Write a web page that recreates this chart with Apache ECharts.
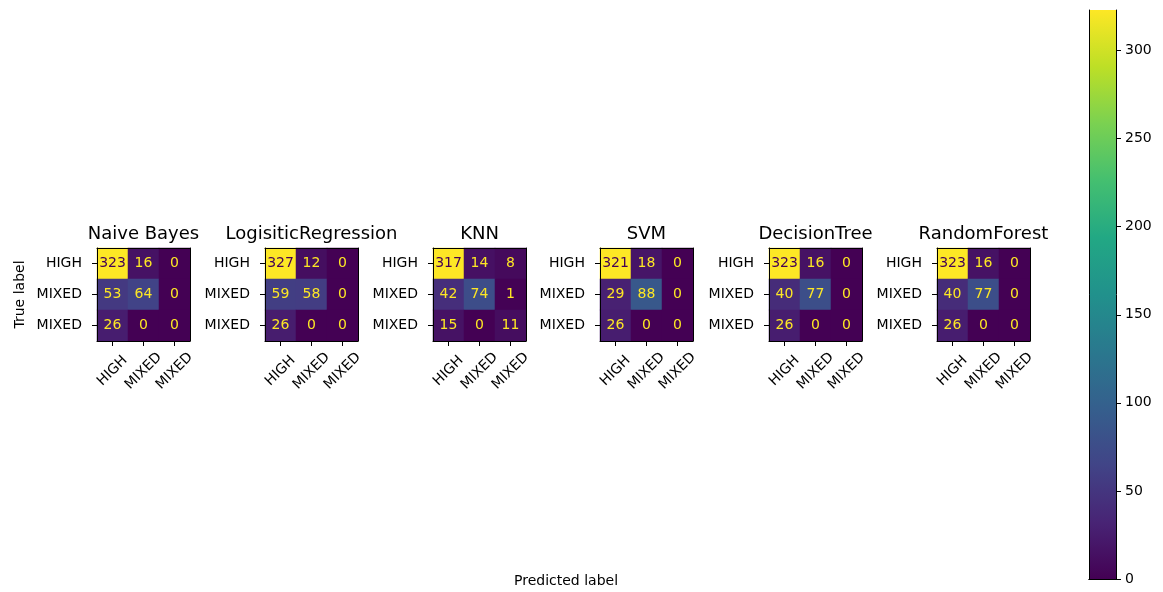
<!DOCTYPE html>
<html>
<head>
<meta charset="utf-8">
<script src="https://cdn.jsdelivr.net/npm/echarts@6/dist/echarts.min.js"></script>
<style>html,body{margin:0;padding:0;background:#fff}#c{width:1163px;height:592px}</style>
</head>
<body>
<div id="c"></div>
<script>
// ---- data ----
const models = ['Naive Bayes', 'LogisiticRegression', 'KNN', 'SVM', 'DecisionTree', 'RandomForest'];
const predLabels = ['HIGH', 'MIXED', 'MIXED'];
const trueLabels = ['HIGH', 'MIXED', 'MIXED'];
const cmNaiveBayes = [[323, 16, 0], [53, 64, 0], [26, 0, 0]];
const cmLogReg = [[327, 12, 0], [59, 58, 0], [26, 0, 0]];
const cmKNN = [[317, 14, 8], [42, 74, 1], [15, 0, 11]];
const cmSVM = [[321, 18, 0], [29, 88, 0], [26, 0, 0]];
const cmDecisionTree = [[323, 16, 0], [40, 77, 0], [26, 0, 0]];
const cmRandomForest = [[323, 16, 0], [40, 77, 0], [26, 0, 0]];
const colorbarTicks = [0, 50, 100, 150, 200, 250, 300];
const colorbarMax = 323;
const xTitle = 'Predicted label';
const yTitle = 'True label';

const matrices = [cmNaiveBayes, cmLogReg, cmKNN, cmSVM, cmDecisionTree, cmRandomForest];
const viridis = ['#440154', '#482475', '#414487', '#355f8d', '#2a788e', '#21918c', '#22a884', '#44bf70', '#7ad151', '#bddf26', '#fde725'];

// ---- layout ----
const FONT = 'DejaVu Sans';
const lefts = [97, 265, 433, 600, 769, 937];
const gTop = 248, gSize = 93;
const tickFS = 14, titleFS = 18;

const grids = [], xAxes = [], yAxes = [], series = [], visualMaps = [];
matrices.forEach((m, i) => {
  grids.push({ left: lefts[i], top: gTop, width: gSize, height: gSize, containLabel: false });
  const flat = m.flat();
  const vmin = Math.min(...flat), vmax = Math.max(...flat);
  const thresh = (vmin + vmax) / 2;
  // bottom x axis
  xAxes.push({
    type: 'category', gridIndex: i, data: predLabels, position: 'bottom', z: 5,
    axisLine: { show: true, lineStyle: { color: '#000', width: 1 } },
    axisTick: { show: true, alignWithLabel: true, length: 5, lineStyle: { color: '#000' } },
    axisLabel: { rotate: 45, margin: 30, align: 'center', verticalAlign: 'middle', color: '#000', fontSize: tickFS, fontFamily: FONT, interval: 0 },
    splitLine: { show: false }
  });
  // top x axis (spine + title)
  xAxes.push({
    type: 'category', gridIndex: i, data: predLabels, position: 'top', z: 5,
    name: models[i], nameLocation: 'middle', nameGap: 5,
    nameTextStyle: { color: '#000', fontSize: titleFS, fontFamily: FONT },
    axisLine: { show: true, lineStyle: { color: '#000', width: 1 } },
    axisTick: { show: false }, axisLabel: { show: false }, splitLine: { show: false }
  });
  const yLeft = {
    type: 'category', gridIndex: i, data: trueLabels, inverse: true, position: 'left', z: 5,
    axisLine: { show: true, lineStyle: { color: '#000', width: 1 } },
    axisTick: { show: true, alignWithLabel: true, length: 5, lineStyle: { color: '#000' } },
    axisLabel: { margin: 15, color: '#000', fontSize: tickFS, fontFamily: FONT, interval: 0 },
    splitLine: { show: false }
  };
  if (i === 0) {
    yLeft.name = yTitle; yLeft.nameLocation = 'middle'; yLeft.nameGap = 70; yLeft.nameRotate = 90;
    yLeft.nameTextStyle = { color: '#000', fontSize: tickFS, fontFamily: FONT };
  }
  yAxes.push(yLeft);
  yAxes.push({
    type: 'category', gridIndex: i, data: trueLabels, inverse: true, position: 'right', z: 5,
    axisLine: { show: true, lineStyle: { color: '#000', width: 1 } },
    axisTick: { show: false }, axisLabel: { show: false }, splitLine: { show: false }
  });
  const data = [];
  m.forEach((row, r) => row.forEach((v, c) => {
    data.push({ value: [c, r, v], label: { color: v < thresh ? viridis[viridis.length - 1] : viridis[0] } });
  }));
  series.push({
    type: 'heatmap', xAxisIndex: 2 * i, yAxisIndex: 2 * i, data: data,
    label: { show: true, fontSize: tickFS, fontFamily: FONT, formatter: p => String(p.value[2]) },
    emphasis: { disabled: true }, itemStyle: { borderWidth: 0 }
  });
  visualMaps.push({ type: 'continuous', show: false, seriesIndex: i, dimension: 2, min: vmin, max: vmax, inRange: { color: viridis } });
});

// colorbar
const cbIdx = matrices.length;
grids.push({ left: 1089, top: 10, width: 27, height: 569 });
xAxes.push({
  type: 'category', gridIndex: cbIdx, data: [''], position: 'bottom', z: 5,
  axisLine: { show: true, lineStyle: { color: '#000' } }, axisTick: { show: false }, axisLabel: { show: false }
});
xAxes.push({
  type: 'category', gridIndex: cbIdx, data: [''], position: 'top', z: 5,
  axisLine: { show: true, lineStyle: { color: '#000' } }, axisTick: { show: false }, axisLabel: { show: false }
});
yAxes.push({
  type: 'value', gridIndex: cbIdx, min: 0, max: colorbarMax, position: 'right', z: 5,
  axisLine: { show: true, lineStyle: { color: '#000' } },
  axisTick: { show: true, length: 5, customValues: colorbarTicks, lineStyle: { color: '#000' } },
  axisLabel: { customValues: colorbarTicks, margin: 9, color: '#000', fontSize: tickFS, fontFamily: FONT },
  splitLine: { show: false }
});
yAxes.push({
  type: 'value', gridIndex: cbIdx, min: 0, max: colorbarMax, position: 'left', z: 5,
  axisLine: { show: true, lineStyle: { color: '#000' } }, axisTick: { show: false }, axisLabel: { show: false },
  splitLine: { show: false }
});
series.push({
  type: 'bar', xAxisIndex: 2 * cbIdx, yAxisIndex: 2 * cbIdx, data: [colorbarMax], barWidth: '100%', silent: true,
  itemStyle: {
    color: {
      type: 'linear', x: 0, y: 1, x2: 0, y2: 0,
      colorStops: viridis.map((c, k) => ({ offset: k / (viridis.length - 1), color: c }))
    }
  }
});

const chart = echarts.init(document.getElementById('c'), null, { renderer: 'canvas' });
chart.setOption({
  animation: false,
  backgroundColor: '#fff',
  grid: grids, xAxis: xAxes, yAxis: yAxes, series: series, visualMap: visualMaps,
  graphic: [{
    type: 'text', x: 566, y: 581,
    style: { text: xTitle, fill: '#000', fontSize: tickFS, fontFamily: FONT, textAlign: 'center', textVerticalAlign: 'middle' }
  }]
});
</script>
</body>
</html>
